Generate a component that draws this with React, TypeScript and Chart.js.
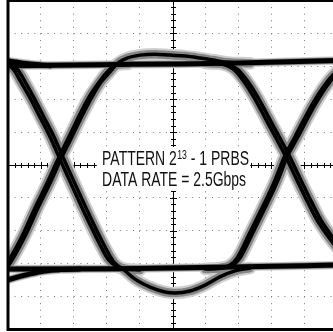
import React, { useEffect, useRef } from "react";
import { Chart, registerables } from "chart.js";

Chart.register(...registerables);

// Units: oscilloscope divisions. x: 0..10 div (time), y: -5..+5 div (amplitude)
const TOP_RAIL_X = [-0.24, 2.8, 4.92, 7.05, 10.15];
const TOP_RAIL_Y = [3.01, 3.05, 3.07, 3.1, 3.18];

const BOTTOM_RAIL_X = [-0.24, 3.4, 6.75, 10.15];
const BOTTOM_RAIL_Y = [-3.16, -3.15, -3.1, -3.04];

// previous-period tails at the left edge
const HUMP0_X = [-0.85, -0.24, 0.21, 0.67, 1.28];
const HUMP0_Y = [3.25, 3.19, 3.13, 3.07, 3.02];
const DIP0_X = [-0.85, -0.24, 0.21, 0.67, 1.12, 1.58, 2.19];
const DIP0_Y = [-3.74, -3.56, -3.43, -3.31, -3.22, -3.18, -3.16];

// rising edge through first crossing (settling into rail)
const RISE1_X = [-0.24, -0.09, 0.12, 0.43, 0.82, 1.19, 1.55, 1.82, 2.1, 2.43, 2.77, 3.04, 3.31, 3.65];
const RISE1_Y = [-3.19, -3.07, -2.74, -2.16, -1.31, -0.55, 0.24, 0.79, 1.37, 2.01, 2.52, 2.86, 3.04, 3.07];

// rising edge through first crossing with overshoot
const RISE1B_X = [-0.15, 0.0, 0.21, 0.52, 0.91, 1.28, 1.64, 1.91, 2.19, 2.52, 2.83, 3.1, 3.34, 3.62, 4.01, 4.47, 4.92, 5.38, 5.84, 6.23, 6.69, 7.36];
const RISE1B_Y = [-3.19, -3.07, -2.74, -2.16, -1.31, -0.55, 0.24, 0.79, 1.37, 2.01, 2.52, 2.83, 3.1, 3.25, 3.34, 3.37, 3.34, 3.31, 3.25, 3.19, 3.12, 3.09];

// falling edge through first crossing (settling into rail)
const FALL1_X = [-0.24, 0.0, 0.18, 0.36, 0.67, 0.97, 1.28, 1.55, 1.88, 2.34, 2.8, 3.04, 3.28, 3.59, 4.01];
const FALL1_Y = [3.1, 3.04, 2.89, 2.58, 2.04, 1.46, 0.85, 0.24, -0.49, -1.49, -2.43, -2.86, -3.07, -3.16, -3.19];

// falling edge through first crossing with undershoot dip
const FALL1B_X = [-0.12, 0.12, 0.3, 0.49, 0.79, 1.09, 1.4, 1.67, 2.0, 2.46, 2.92, 3.22, 3.53, 3.86, 4.32, 4.77, 5.08, 5.53, 5.99, 6.44, 6.9, 7.36];
const FALL1B_Y = [3.1, 3.04, 2.89, 2.58, 2.04, 1.46, 0.85, 0.24, -0.49, -1.49, -2.43, -2.95, -3.19, -3.47, -3.71, -3.86, -3.89, -3.83, -3.65, -3.4, -3.22, -3.13];

// rising edge through second crossing
const RISE2_X = [5.99, 6.44, 6.75, 6.96, 7.36, 7.72, 8.09, 8.42, 8.72, 8.99, 9.27, 9.54, 9.85, 10.15, 10.55];
const RISE2_Y = [-3.16, -3.13, -3.04, -2.83, -2.04, -1.31, -0.52, 0.3, 0.85, 1.37, 1.88, 2.31, 2.71, 2.95, 3.07];
const RISE2B_X = [6.08, 6.53, 6.84, 7.05, 7.45, 7.81, 8.18, 8.51, 8.81, 9.08, 9.36, 9.63, 9.94, 10.24, 10.64];
const RISE2B_Y = [-3.16, -3.13, -3.04, -2.83, -2.04, -1.31, -0.52, 0.3, 0.85, 1.37, 1.88, 2.31, 2.71, 2.98, 3.25];

// falling edge through second crossing
const FALL2_X = [5.99, 6.5, 6.84, 7.14, 7.45, 7.72, 7.96, 8.21, 8.42, 8.72, 9.03, 9.39, 9.7, 10.0, 10.4, 10.85];
const FALL2_Y = [3.1, 3.07, 2.92, 2.58, 2.1, 1.61, 1.16, 0.7, 0.3, -0.33, -0.97, -1.67, -2.13, -2.52, -2.89, -3.07];
const FALL2B_X = [6.11, 6.62, 6.96, 7.26, 7.57, 7.84, 8.08, 8.33, 8.54, 8.84, 9.15, 9.51, 9.82, 10.12, 10.52, 10.97];
const FALL2B_Y = [3.1, 3.07, 2.92, 2.58, 2.1, 1.61, 1.16, 0.7, 0.3, -0.33, -0.97, -1.67, -2.13, -2.52, -2.89, -3.07];

const LABEL_LINE1 = ["PATTERN 2", "13", " - 1 PRBS"];
const LABEL_LINE2 = "DATA RATE = 2.5Gbps";

type Trace = { x: number[]; y: number[]; kind: "rail" | "edge" };

const TRACES: Trace[] = [
  { x: TOP_RAIL_X, y: TOP_RAIL_Y, kind: "rail" },
  { x: BOTTOM_RAIL_X, y: BOTTOM_RAIL_Y, kind: "rail" },
  { x: HUMP0_X, y: HUMP0_Y, kind: "rail" },
  { x: DIP0_X, y: DIP0_Y, kind: "rail" },
  { x: RISE1_X, y: RISE1_Y, kind: "edge" },
  { x: RISE1B_X, y: RISE1B_Y, kind: "edge" },
  { x: FALL1_X, y: FALL1_Y, kind: "edge" },
  { x: FALL1B_X, y: FALL1B_Y, kind: "edge" },
  { x: RISE2_X, y: RISE2_Y, kind: "edge" },
  { x: RISE2B_X, y: RISE2B_Y, kind: "edge" },
  { x: FALL2_X, y: FALL2_Y, kind: "edge" },
  { x: FALL2B_X, y: FALL2B_Y, kind: "edge" },
];

const FONT_STACK = '"Liberation Sans Narrow", "Liberation Sans", Arial, sans-serif';

const scopePlugin = {
  id: "scope",
  beforeDatasetsDraw(chart: any) {
    const { ctx, chartArea: a, scales } = chart;
    const xs = scales.x;
    const ys = scales.y;
    ctx.save();
    ctx.strokeStyle = "#000";
    ctx.lineWidth = 1;
    const cy = Math.round(ys.getPixelForValue(0)) + 0.5;
    const cx = Math.round(xs.getPixelForValue(5)) + 0.5;
    ctx.beginPath();
    ctx.moveTo(a.left, cy);
    ctx.lineTo(a.right, cy);
    ctx.moveTo(cx, a.top);
    ctx.lineTo(cx, a.bottom);
    for (let k = 0; k <= 50; k++) {
      const px = Math.round(xs.getPixelForValue(k * 0.2)) + 0.5;
      const len = k % 5 === 0 ? 3.5 : 2.5;
      ctx.moveTo(px, cy - len);
      ctx.lineTo(px, cy + len);
    }
    for (let k = -25; k <= 25; k++) {
      const py = Math.round(ys.getPixelForValue(k * 0.2)) + 0.5;
      const len = k % 5 === 0 ? 3.5 : 2.5;
      ctx.moveTo(cx - len, py);
      ctx.lineTo(cx + len, py);
    }
    ctx.stroke();
    ctx.restore();
  },
  afterDatasetsDraw(chart: any) {
    const { ctx, chartArea: a, scales } = chart;
    const xs = scales.x;
    const ys = scales.y;
    ctx.save();
    // label box
    const bx0 = xs.getPixelForValue(2.7);
    const bx1 = xs.getPixelForValue(7.36);
    const by0 = ys.getPixelForValue(0.55);
    const by1 = ys.getPixelForValue(-0.79);
    ctx.fillStyle = "#fff";
    ctx.fillRect(bx0, by0, bx1 - bx0, by1 - by0);

    const tx = xs.getPixelForValue(2.86);
    const base1 = ys.getPixelForValue(0.0);
    const base2 = ys.getPixelForValue(-0.64);
    const big = `20px ${FONT_STACK}`;
    const small = `12.5px ${FONT_STACK}`;
    ctx.font = big;
    const w2 = ctx.measureText(LABEL_LINE2).width;
    const sx = 144 / w2;
    ctx.fillStyle = "#111";
    ctx.textBaseline = "alphabetic";
    ctx.textAlign = "left";
    // line 1
    ctx.save();
    ctx.translate(tx, base1);
    ctx.scale(sx, 1);
    let cur = 0;
    ctx.font = big;
    ctx.fillText(LABEL_LINE1[0], cur, 0);
    cur += ctx.measureText(LABEL_LINE1[0]).width;
    ctx.font = small;
    ctx.fillText(LABEL_LINE1[1], cur + 0.5, -6.5);
    cur += ctx.measureText(LABEL_LINE1[1]).width + 0.5;
    ctx.font = big;
    ctx.fillText(LABEL_LINE1[2], cur, 0);
    ctx.restore();
    // line 2
    ctx.save();
    ctx.translate(tx, base2);
    ctx.scale(sx, 1);
    ctx.font = big;
    ctx.fillText(LABEL_LINE2, 0, 0);
    ctx.restore();

    // frame
    ctx.strokeStyle = "#000";
    ctx.lineWidth = 3;
    ctx.strokeRect(a.left, a.top, a.right - a.left, a.bottom - a.top);
    ctx.restore();
  },
};

export default function App() {
  const ref = useRef<HTMLCanvasElement | null>(null);
  useEffect(() => {
    if (!ref.current) return;
    const datasets: any[] = [];
    TRACES.forEach((t, i) => {
      const data = t.x.map((v, j) => ({ x: v, y: t.y[j] }));
      const rail = t.kind === "rail";
      const common = {
        data,
        pointRadius: 0,
        cubicInterpolationMode: "monotone",
        borderCapStyle: "round",
        borderJoinStyle: "round",
        fill: false,
        clip: 0,
      };
      datasets.push({ ...common, label: `halo-outer-${i}`, borderColor: "#cfcfcf", borderWidth: rail ? 8.5 : 12.5, order: 3 });
      datasets.push({ ...common, label: `halo-inner-${i}`, borderColor: "#858585", borderWidth: rail ? 6.5 : 8.5, order: 2 });
      datasets.push({ ...common, label: `core-${i}`, borderColor: "#000", borderWidth: rail ? 5 : 3.5, order: 1 });
    });

    const gridColor = (center: number, lo: number, hi: number) => (c: any) => {
      const v = c.tick ? c.tick.value : null;
      if (v === center || v === lo || v === hi) return "rgba(0,0,0,0)";
      return "#7a7a7a";
    };

    const chart = new Chart(ref.current, {
      type: "line",
      data: { datasets },
      options: {
        animation: false,
        responsive: false,
        devicePixelRatio: 1,
        events: [],
        layout: { padding: { left: 8, right: 5, top: 0.5, bottom: 2.5 } },
        plugins: { legend: { display: false }, tooltip: { enabled: false } },
        scales: {
          x: {
            type: "linear",
            min: 0,
            max: 10,
            ticks: { display: false, stepSize: 1 },
            grid: { color: gridColor(5, 0, 10), lineWidth: 1, drawTicks: false, borderDash: [1, 5.58] } as any,
            border: { display: false, dash: [1, 5.58], dashOffset: 0 },
          },
          y: {
            type: "linear",
            min: -5,
            max: 5,
            ticks: { display: false, stepSize: 1 },
            grid: { color: gridColor(0, -5, 5), lineWidth: 1, drawTicks: false, borderDash: [1, 5.58] } as any,
            border: { display: false, dash: [1, 5.58], dashOffset: 0 },
          },
        },
      } as any,
      plugins: [scopePlugin],
    });
    return () => chart.destroy();
  }, []);

  return (
    <div style={{ position: "fixed", left: 0, top: 0, width: 333, height: 332, overflow: "hidden", background: "#fff" }}>
      <canvas ref={ref} width={342} height={332} style={{ display: "block" }} />
    </div>
  );
}
